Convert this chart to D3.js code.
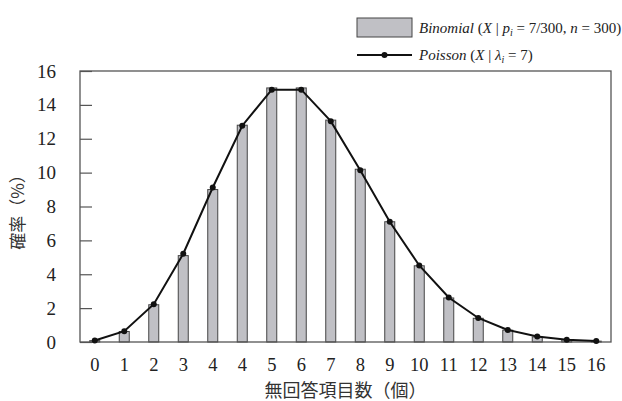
<!DOCTYPE html>
<html>
<head>
<meta charset="utf-8">
<script src="https://cdn.jsdelivr.net/npm/d3@7/dist/d3.min.js"></script>
<style>
    body { margin: 0; background: #fff; }
    svg text { font-family: "Liberation Serif", "DejaVu Serif", serif; fill: #222; }
</style>
</head>
<body>
<div id="chart"></div>
<script>
// x labels (the source chart repeats "4")
var categories = ["0", "1", "2", "3", "4", "4", "5", "6", "7", "8", "9", "10", "11", "12", "13", "14", "15", "16"];
// binomial bars, %
var binomialValues = [0.08, 0.62, 2.2, 5.1, 9.0, 12.8, 15.0, 15.0, 13.1, 10.2, 7.1, 4.5, 2.6, 1.4, 0.7, 0.3, 0.13, 0.05];
// poisson line, %
var poissonValues = [0.09, 0.64, 2.23, 5.21, 9.12, 12.77, 14.9, 14.9, 13.04, 10.14, 7.1, 4.52, 2.63, 1.42, 0.71, 0.33, 0.14, 0.06];
var yTicks = [0, 2, 4, 6, 8, 10, 12, 14, 16];

var width = 622, height = 401;
var margin = {top: 71, right: 11, bottom: 59, left: 80};
var innerW = width - margin.left - margin.right;
var innerH = height - margin.top - margin.bottom;

var svg = d3.select("#chart")
    .append("svg")
    .attr("width", width)
    .attr("height", height);

var g = svg.append("g")
    .attr("transform", "translate(" + margin.left + "," + margin.top + ")");

var x = d3.scaleBand()
    .domain(d3.range(categories.length))
    .range([0, innerW]);

var y = d3.scaleLinear()
    .domain([0, 16])
    .range([innerH, 0]);

var axisColor = "#555";

// y axis with inward ticks
var yAxis = g.append("g")
    .call(d3.axisLeft(y).tickValues(yTicks).tickSize(-12).tickPadding(24));
yAxis.select(".domain").remove();
yAxis.selectAll(".tick line").attr("stroke", axisColor).attr("stroke-width", 1.2);
yAxis.selectAll(".tick text")
    .attr("font-size", "19px")
    .attr("fill", "#222");

// x axis labels, no tick marks
var xAxis = g.append("g")
    .attr("transform", "translate(0," + innerH + ")")
    .call(d3.axisBottom(x).tickFormat(function (i) { return categories[i]; }).tickSize(0).tickPadding(16));
xAxis.select(".domain").remove();
xAxis.selectAll(".tick text")
    .attr("font-size", "18.5px")
    .attr("fill", "#222");

// bars
var barW = 10;
g.selectAll("rect.bar")
    .data(binomialValues)
    .enter()
    .append("rect")
    .attr("class", "bar")
    .attr("x", function (d, i) { return x(i) + x.bandwidth() / 2 - barW / 2; })
    .attr("y", function (d) { return y(d); })
    .attr("width", barW)
    .attr("height", function (d) { return innerH - y(d); })
    .attr("fill", "#c0c0c5")
    .attr("stroke", "#444")
    .attr("stroke-width", 1);

// frame
g.append("rect")
    .attr("x", 0)
    .attr("y", 0)
    .attr("width", innerW)
    .attr("height", innerH)
    .attr("fill", "none")
    .attr("stroke", axisColor)
    .attr("stroke-width", 1.3);

// poisson line
var line = d3.line()
    .x(function (d, i) { return x(i) + x.bandwidth() / 2; })
    .y(function (d) { return y(d); });

g.append("path")
    .datum(poissonValues)
    .attr("d", line)
    .attr("fill", "none")
    .attr("stroke", "#111")
    .attr("stroke-width", 2);

g.selectAll("circle.pt")
    .data(poissonValues)
    .enter()
    .append("circle")
    .attr("class", "pt")
    .attr("cx", function (d, i) { return x(i) + x.bandwidth() / 2; })
    .attr("cy", function (d) { return y(d); })
    .attr("r", 3)
    .attr("fill", "#111");

// axis titles
svg.append("text")
    .attr("x", margin.left + innerW / 2)
    .attr("y", 397)
    .attr("text-anchor", "middle")
    .attr("font-size", "18px")
    .style("font-family", "'Noto Sans CJK JP', sans-serif")
    .style("fill", "#333")
    .text("無回答項目数（個）");

svg.append("text")
    .attr("transform", "translate(24,208) rotate(-90)")
    .attr("text-anchor", "middle")
    .attr("font-size", "17px")
    .style("font-family", "'Noto Sans CJK JP', sans-serif")
    .style("fill", "#333")
    .text("確率（%）");

// legend
var legend = svg.append("g");
legend.append("rect")
    .attr("x", 357).attr("y", 18)
    .attr("width", 55).attr("height", 19)
    .attr("fill", "#c0c0c5")
    .attr("stroke", "#444")
    .attr("stroke-width", 1);

var t1 = legend.append("text").attr("x", 419).attr("y", 33).attr("font-size", "15px");
t1.append("tspan").attr("font-style", "italic").text("Binomial");
t1.append("tspan").text(" (");
t1.append("tspan").attr("font-style", "italic").text("X");
t1.append("tspan").text(" | ");
t1.append("tspan").attr("font-style", "italic").text("p");
t1.append("tspan").attr("font-style", "italic").attr("font-size", "10px").attr("dy", 3).text("i");
t1.append("tspan").attr("dy", -3).text(" = 7/300, ");
t1.append("tspan").attr("font-style", "italic").text("n");
t1.append("tspan").text(" = 300)");

legend.append("line")
    .attr("x1", 357).attr("x2", 412)
    .attr("y1", 55).attr("y2", 55)
    .attr("stroke", "#111").attr("stroke-width", 2);
legend.append("circle")
    .attr("cx", 384.5).attr("cy", 55).attr("r", 3).attr("fill", "#111");

var t2 = legend.append("text").attr("x", 419).attr("y", 60).attr("font-size", "15px");
t2.append("tspan").attr("font-style", "italic").text("Poisson");
t2.append("tspan").text(" (");
t2.append("tspan").attr("font-style", "italic").text("X");
t2.append("tspan").text(" | ");
t2.append("tspan").attr("font-style", "italic").text("λ");
t2.append("tspan").attr("font-style", "italic").attr("font-size", "10px").attr("dy", 3).text("i");
t2.append("tspan").attr("dy", -3).text(" = 7)");
</script>
</body>
</html>
